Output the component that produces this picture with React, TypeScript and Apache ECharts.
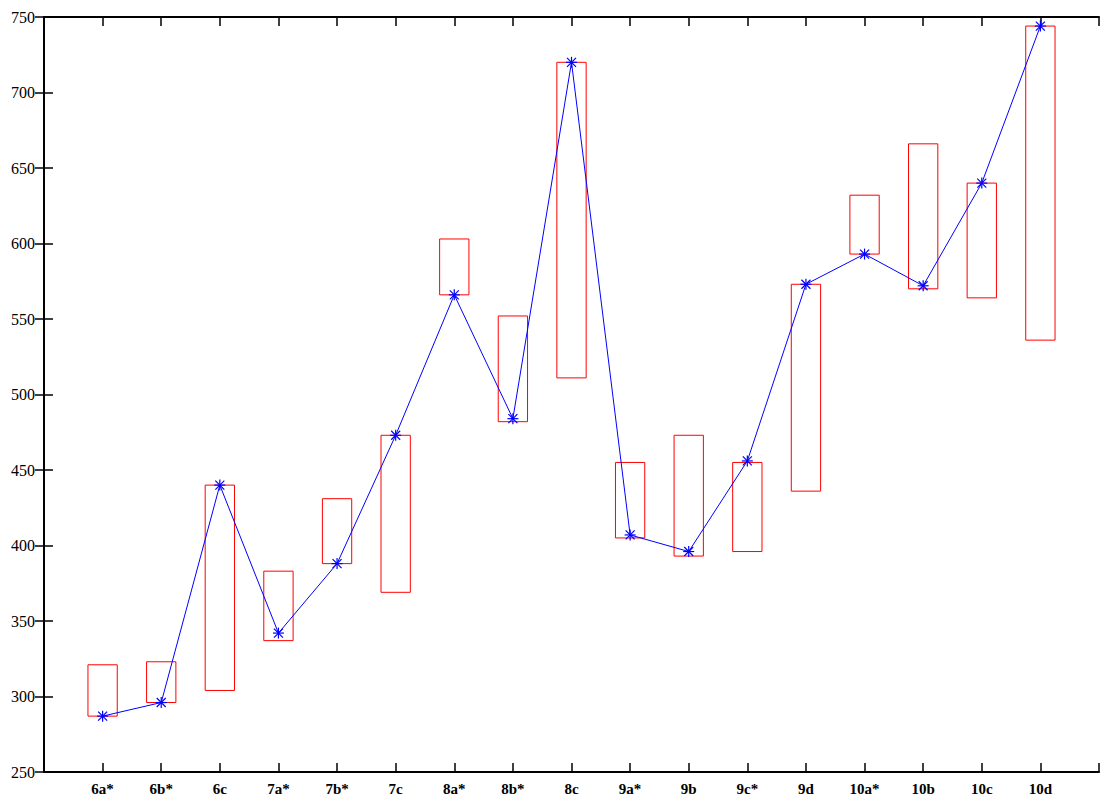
import React, { useEffect, useRef } from "react";
import * as echarts from "echarts";

const categories = ["6a*", "6b*", "6c", "7a*", "7b*", "7c", "8a*", "8b*", "8c", "9a*", "9b", "9c*", "9d", "10a*", "10b", "10c", "10d"];
const boxLow = [287, 296, 304, 337, 388, 369, 566, 482, 511, 405, 393, 396, 436, 593, 570, 564, 536];
const boxHigh = [321, 323, 440, 383, 431, 473, 603, 552, 720, 455, 473, 455, 573, 632, 666, 640, 744];
const points = [287, 296, 440, 342, 388, 473, 566, 484, 720, 407, 396, 456, 573, 593, 572, 640, 744];
const yTicks = [250, 300, 350, 400, 450, 500, 550, 600, 650, 700, 750];

const FONT = "Liberation Serif";

export default function App() {
  const ref = useRef<HTMLDivElement>(null);
  useEffect(() => {
    if (!ref.current) return;
    const chart = echarts.init(ref.current, undefined, { renderer: "svg" });
    const boxData = categories.map((_, i) => [i + 1, boxLow[i], boxHigh[i]]);
    const lineData = categories.map((_, i) => [i + 1, points[i]]);
    const axisLine = { show: true, lineStyle: { color: "#000", width: 2 } };
    const tick = { show: true, inside: true, length: 9, lineStyle: { color: "#000", width: 1.5 } };
    chart.setOption({
      animation: false,
      backgroundColor: "#fff",
      grid: { left: 44, right: 5, top: 17, bottom: 30, containLabel: false },
      xAxis: [
        {
          type: "value",
          min: 0,
          max: 18,
          interval: 1,
          position: "bottom",
          axisLine,
          axisTick: tick,
          splitLine: { show: false },
          axisLabel: {
            margin: 9,
            fontFamily: FONT,
            fontSize: 15,
            fontWeight: "bold",
            color: "#000",
            formatter: (v: number) => (v >= 1 && v <= categories.length ? categories[v - 1] : ""),
          },
        },
        {
          type: "value",
          min: 0,
          max: 18,
          interval: 1,
          position: "top",
          axisLine,
          axisTick: tick,
          splitLine: { show: false },
          axisLabel: { show: false },
        },
      ],
      yAxis: [
        {
          type: "value",
          min: yTicks[0],
          max: yTicks[yTicks.length - 1],
          interval: 50,
          position: "left",
          axisLine,
          axisTick: tick,
          splitLine: { show: false },
          axisLabel: { margin: 9, fontFamily: FONT, fontSize: 16, color: "#000" },
        },
        {
          type: "value",
          min: yTicks[0],
          max: yTicks[yTicks.length - 1],
          interval: 50,
          position: "right",
          axisLine,
          axisTick: tick,
          splitLine: { show: false },
          axisLabel: { show: false },
        },
      ],
      series: [
        {
          type: "custom",
          data: boxData,
          z: 1,
          renderItem: (params: any, api: any) => {
            const x = api.value(0);
            const lo = api.value(1);
            const hi = api.value(2);
            const p1 = api.coord([x - 0.25, hi]);
            const p2 = api.coord([x + 0.25, lo]);
            return {
              type: "rect",
              shape: { x: p1[0], y: p1[1], width: p2[0] - p1[0], height: p2[1] - p1[1] },
              style: { fill: "none", stroke: "#ff0000", lineWidth: 1 },
            };
          },
        },
        {
          type: "line",
          data: lineData,
          z: 2,
          symbol: "none",
          lineStyle: { color: "#0000ff", width: 1 },
        },
        {
          type: "custom",
          data: lineData,
          z: 3,
          renderItem: (params: any, api: any) => {
            const c = api.coord([api.value(0), api.value(1)]);
            const s = 5.5;
            const d = 4.5;
            const st = { stroke: "#0000ff", lineWidth: 1.2 };
            return {
              type: "group",
              children: [
                { type: "line", shape: { x1: c[0] - s, y1: c[1], x2: c[0] + s, y2: c[1] }, style: st },
                { type: "line", shape: { x1: c[0], y1: c[1] - s, x2: c[0], y2: c[1] + s }, style: st },
                { type: "line", shape: { x1: c[0] - d, y1: c[1] - d, x2: c[0] + d, y2: c[1] + d }, style: st },
                { type: "line", shape: { x1: c[0] - d, y1: c[1] + d, x2: c[0] + d, y2: c[1] - d }, style: st },
              ],
            };
          },
        },
      ],
    });
    return () => chart.dispose();
  }, []);
  return <div ref={ref} style={{ position: "fixed", left: 0, top: 0, width: 1104, height: 802 }} />;
}
